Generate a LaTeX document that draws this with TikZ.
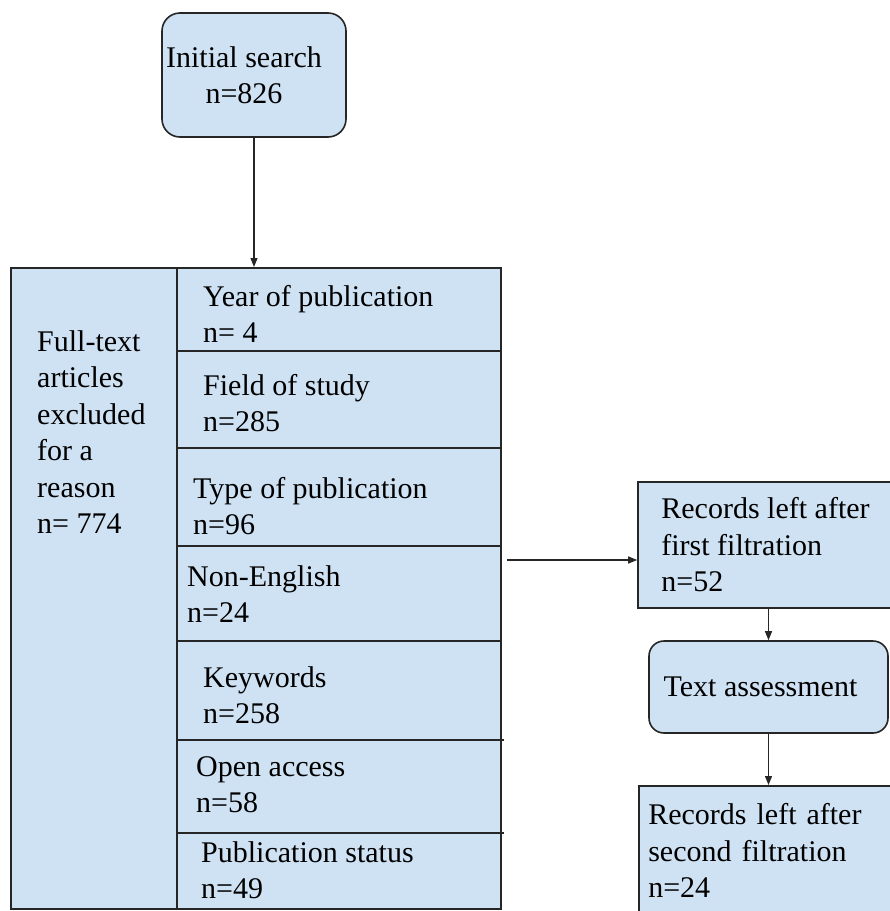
\documentclass[tikz,border=0pt]{standalone}
\usepackage{fontspec}
\setmainfont{Liberation Serif}
\usepackage{tikz}
\usetikzlibrary{calc,arrows.meta}
\definecolor{box_fill}{HTML}{CFE2F3}
\colorlet{box_line}{black!85}
\tikzset{
    box/.style={draw=box_line,fill=box_fill,line width=1.6pt,inner sep=0pt},
    roundbox/.style={box,rounded corners=18pt},
    txt/.style={inner sep=0pt,anchor=north west,align=left},
    arrow/.style={-{Triangle[length=9pt,width=7pt]},line width=1.2pt,box_line},
}

\begin{document}
\begin{tikzpicture}[x=1pt,y=-1pt,font=\fontsize{30pt}{36.5pt}\selectfont]
  \useasboundingbox (0,0) rectangle (890,911);
  % first stage
  \node[roundbox,minimum width=184pt,minimum height=124pt,align=center] (init) at (254,75)
    {Initial search\hspace*{20pt}\\n=826\hspace*{20pt}};
  % exclusion table
  \node[box,minimum width=490pt,minimum height=641pt,anchor=north west] (excl) at (10,267) {};
  \draw[box_line,line width=1.6pt] (177,267) -- (177,908);
  \foreach \y/\e in {351/500,448/500,546/500,641/500,740/504,833/504}
    \draw[box_line,line width=1.6pt] (177,\y) -- (\e,\y);
  \node[txt] (reason) at (37,330) {Full-text\\articles\\excluded\\for a\\reason\\n= 774};
  \node[txt] (year) at (203,285) {Year of publication\\n= 4};
  \node[txt] (field) at (203,374) {Field of study\\n=285};
  \node[txt] (type) at (193,477) {Type of publication\\n=96};
  \node[txt] (lang) at (187,565) {Non-English\\n=24};
  \node[txt] (keyw) at (203,666) {Keywords\\n=258};
  \node[txt] (open) at (196,756) {Open access\\n=58};
  \node[txt] (status) at (201,841) {Publication status\\n=49};
  % right column
  \node[box,minimum width=255pt,minimum height=126pt,align=left] (rec1) at (765.5,545)
    {Records left after\\first filtration\\n=52};
  \node[roundbox,rounded corners=15pt,minimum width=239pt,minimum height=92pt] (assess) at (768.5,687)
    {Text assessment\hspace*{16pt}};
  \node[box,minimum width=255pt,anchor=north west,text width=236pt,align=left,inner xsep=8pt,inner ysep=18pt] (rec2) at (638,785)
    {Records left after\\second filtration\\n=24};
  \coordinate (split) at (500,560);
  % connectors
  \draw[arrow] (init.south) -- (init.south |- excl.north);
  \draw[arrow] ([xshift=7pt]split) -- (split -| rec1.west);
  \draw[arrow] (rec1.south -| assess.north) -- (assess.north);
  \draw[arrow] (assess.south) -- (assess.south |- rec2.north);
\end{tikzpicture}
\end{document}
